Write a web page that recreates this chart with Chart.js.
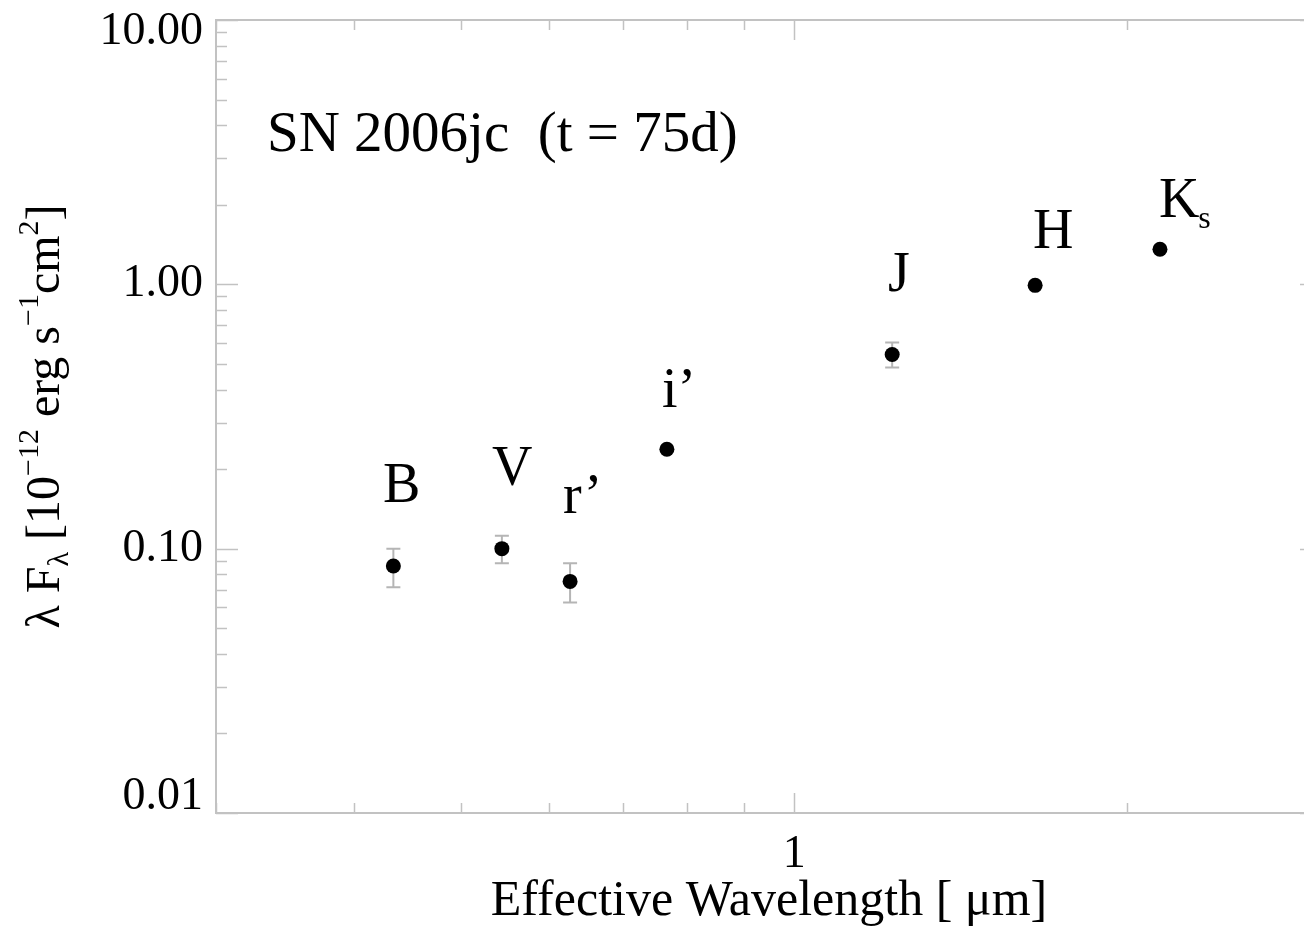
<!DOCTYPE html>
<html><head><meta charset="utf-8">
<script src="https://cdn.jsdelivr.net/npm/chart.js@4.4.1/dist/chart.umd.min.js"></script>
<style>
html,body{margin:0;padding:0;background:#fff;overflow:hidden;}
#wrap{position:relative;width:1330px;height:927px;}
</style></head>
<body>
<div id="wrap"><canvas id="c" width="1330" height="927"></canvas></div>
<script>
// ---- data ----
const bands = ['B', 'V', 'r\u2019', 'i\u2019', 'J', 'H', 'K'];
const bandSub = ['', '', '', '', '', '', 's'];
const wavelength = [0.434, 0.544, 0.627, 0.767, 1.226, 1.651, 2.141];   // μm
const flux = [0.086, 0.100, 0.0752, 0.2376, 0.543, 0.991, 1.357];       // 1e-12 erg/s/cm2
const fluxLow = [0.0714, 0.088, 0.0626, null, 0.485, null, null];
const fluxHigh = [0.100, 0.112, 0.088, null, 0.603, null, null];
// band label anchors (data coordinates: wavelength, flux)
const labelX = [0.4247, 0.5329, 0.6178, 0.7592, 1.2151, 1.6440, 2.1364];
const labelY = [0.1501, 0.1741, 0.1364, 0.3435, 0.944, 1.372, 1.797];
const xTickValues = [1];
const xTickLabels = ['1'];
const yTickValues = [0.01, 0.1, 1, 10];
const yTickLabels = ['0.01', '0.10', '1.00', '10.00'];
const plotTitle = 'SN 2006jc  (t = 75d)';
const xTitle = 'Effective Wavelength [ \u03bcm]';
const yTitleParts = [
  ['\u03bb F', 'n'], ['\u03bb', 'sub'], [' [10', 'n'], ['\u221212', 'sup'],
  [' erg s', 'n'], ['\u22121', 'sup'], ['cm', 'n'], ['2', 'sup'], [']', 'n']
];

// ---- style ----
const FONT = '"Liberation Serif", "Times New Roman", serif';
const axisColor = '#c2c2c2';
const errColor = '#b5b5b5';

function near(a, b) { return Math.abs(a - b) <= Math.abs(b) * 1e-6; }

const plugin = {
  id: 'idlframe',
  beforeDatasetsDraw(chart) {
    const { ctx, chartArea: a, scales: { x, y } } = chart;
    ctx.save();
    ctx.strokeStyle = axisColor;
    ctx.lineWidth = 2;
    ctx.strokeRect(a.left, a.top, a.right - a.left, a.bottom - a.top);
    // x ticks (bottom + top)
    for (let e = Math.floor(Math.log10(x.min)); e <= Math.ceil(Math.log10(x.max)); e++) {
      for (let m = 1; m <= 9; m++) {
        const v = m * Math.pow(10, e);
        if (v < x.min * 0.999 || v > x.max * 1.001) continue;
        const px = Math.round(x.getPixelForValue(v)) + 0.5;
        const len = m === 1 ? 20 : 10;
        ctx.beginPath();
        ctx.moveTo(px, a.bottom); ctx.lineTo(px, a.bottom - len);
        ctx.moveTo(px, a.top); ctx.lineTo(px, a.top + len);
        ctx.lineWidth = 1.5;
        ctx.stroke();
      }
    }
    // y ticks (left + right)
    for (let e = Math.floor(Math.log10(y.min)); e <= Math.ceil(Math.log10(y.max)); e++) {
      for (let m = 1; m <= 9; m++) {
        const v = m * Math.pow(10, e);
        if (v < y.min * 0.999 || v > y.max * 1.001) continue;
        const py = Math.round(y.getPixelForValue(v)) + 0.5;
        const len = m === 1 ? 22 : 11;
        ctx.beginPath();
        ctx.moveTo(a.left, py); ctx.lineTo(a.left + len, py);
        ctx.moveTo(a.right, py); ctx.lineTo(a.right - len, py);
        ctx.lineWidth = 1.5;
        ctx.stroke();
      }
    }
    // error bars
    ctx.strokeStyle = errColor;
    ctx.lineWidth = 2;
    for (let i = 0; i < wavelength.length; i++) {
      if (fluxLow[i] == null || fluxHigh[i] == null) continue;
      const px = x.getPixelForValue(wavelength[i]);
      const y0 = y.getPixelForValue(fluxLow[i]);
      const y1 = y.getPixelForValue(fluxHigh[i]);
      ctx.beginPath();
      ctx.moveTo(px, y0); ctx.lineTo(px, y1);
      ctx.moveTo(px - 7, y0); ctx.lineTo(px + 7, y0);
      ctx.moveTo(px - 7, y1); ctx.lineTo(px + 7, y1);
      ctx.stroke();
    }
    ctx.restore();
  },
  afterDraw(chart) {
    const { ctx, chartArea: a, scales: { x, y } } = chart;
    ctx.save();
    ctx.fillStyle = '#000';
    ctx.textBaseline = 'alphabetic';
    ctx.textAlign = 'left';
    // band labels
    for (let i = 0; i < bands.length; i++) {
      const px = x.getPixelForValue(labelX[i]);
      const py = y.getPixelForValue(labelY[i]);
      ctx.font = '56px ' + FONT;
      ctx.fillText(bands[i], px, py);
      if (bandSub[i]) {
        const w = ctx.measureText(bands[i]).width;
        ctx.font = '32px ' + FONT;
        ctx.fillText(bandSub[i], px + w - 1, py + 11);
      }
    }
    // plot annotation
    ctx.font = '57px ' + FONT;
    ctx.fillText(plotTitle, a.left + 51, a.top + 131);
    // y axis title (rich text, rotated)
    const main = 48, small = 30;
    let total = 0;
    const widths = yTitleParts.map(([t, s]) => {
      ctx.font = (s === 'n' ? main : small) + 'px ' + FONT;
      const w = ctx.measureText(t).width;
      total += w;
      return w;
    });
    const cx = 44, cy = (a.top + a.bottom) / 2;
    ctx.translate(cx, cy);
    ctx.rotate(-Math.PI / 2);
    let u = -total / 2;
    const base = 15;
    yTitleParts.forEach(([t, s], i) => {
      ctx.font = (s === 'n' ? main : small) + 'px ' + FONT;
      const dv = s === 'sub' ? 9 : (s === 'sup' ? -21 : 0);
      ctx.fillText(t, u, base + dv);
      u += widths[i];
    });
    ctx.restore();
  }
};

new Chart(document.getElementById('c'), {
  type: 'scatter',
  data: {
    datasets: [{
      data: wavelength.map((w, i) => ({ x: w, y: flux[i] })),
      pointRadius: 7.5,
      pointHoverRadius: 7.5,
      pointBackgroundColor: '#000',
      pointBorderWidth: 0,
      showLine: false
    }]
  },
  options: {
    responsive: false,
    animation: false,
    events: [],
    layout: { padding: { top: 20, right: 8, left: 0, bottom: 0 } },
    plugins: { legend: { display: false }, tooltip: { enabled: false } },
    scales: {
      x: {
        type: 'logarithmic',
        position: 'bottom',
        min: 0.3, max: 3,
        grid: { display: false, drawTicks: false },
        border: { display: false },
        ticks: {
          autoSkip: false, maxRotation: 0, padding: 14,
          color: '#000',
          font: { family: FONT, size: 46, lineHeight: 1.2 },
          callback: (v) => {
            const i = xTickValues.findIndex(t => near(v, t));
            return i < 0 ? '' : xTickLabels[i];
          }
        },
        title: {
          display: true, text: xTitle, color: '#000',
          font: { family: FONT, size: 50, lineHeight: 1.0 },
          padding: { top: 0, bottom: 0 }
        },
        afterFit: (s) => { s.height = 114; s.paddingLeft = 0; s.paddingRight = 0; }
      },
      y: {
        type: 'logarithmic',
        position: 'left',
        min: 0.01, max: 10,
        grid: { display: false, drawTicks: false },
        border: { display: false },
        ticks: {
          autoSkip: false, padding: 13, color: '#000',
          font: (ctx) => {
            const v = ctx.tick ? ctx.tick.value : 0;
            let lh = 1.2;
            if (near(v, 10)) lh = '24px';
            else if (near(v, 0.01)) lh = '32px';
            return { family: FONT, size: 46, lineHeight: lh };
          },
          callback: (v) => {
            const i = yTickValues.findIndex(t => near(v, t));
            if (i < 0) return '';
            if (i === yTickValues.length - 1) return ['', yTickLabels[i]];
            if (i === 0) return [yTickLabels[i], ''];
            return yTickLabels[i];
          }
        },
        afterFit: (s) => { s.width = 216; s.paddingTop = 0; s.paddingBottom = 0; }
      }
    }
  },
  plugins: [plugin]
});
</script>
</body></html>
